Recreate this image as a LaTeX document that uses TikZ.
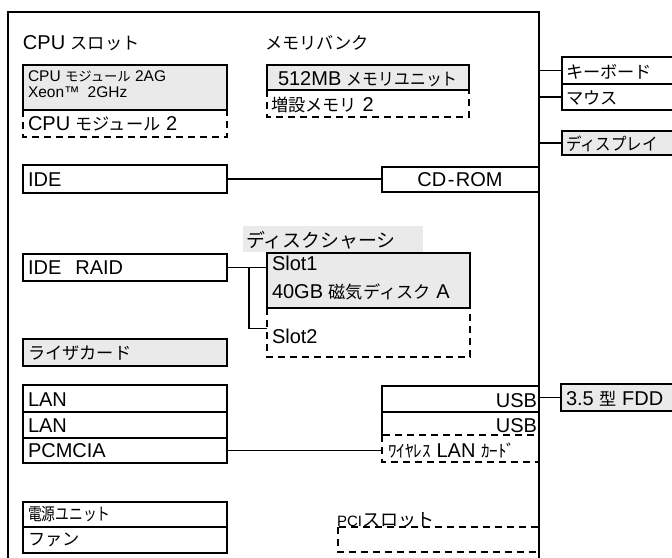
\documentclass[tikz,border=0pt]{standalone}
\usepackage{fontspec}
\setmainfont{Liberation Sans}
\newfontfamily\jpf{Noto Sans CJK JP}[Scale=0.86]
\newcommand\jp[1]{{\jpf #1}}
\newcommand\jn[2][0.9]{\scalebox{#1}[1]{\jpf #2}}
\definecolor{boxgray}{RGB}{234,234,234}
\begin{document}
\begin{tikzpicture}[x=1pt,y=-1pt,
  every node/.style={inner sep=0pt,outer sep=0pt},
  sz/.style 2 args={minimum width=#1pt, minimum height=#2pt},
  bline/.style={line width=1.7pt},
  ln/.style={line width=1.5pt},
  box/.style={draw, bline, rectangle, anchor=north west, fill=white},
  gbox/.style={box, fill=boxgray},
  ghost/.style={rectangle, anchor=north west},
  dsh/.style={line width=1.5pt, dash pattern=on 7pt off 5pt},
  txt/.style={anchor=base west, font=\fontsize{20}{24}\selectfont},
  stxt/.style={anchor=base west, font=\fontsize{15.5}{16}\selectfont},
]
\useasboundingbox (0,0) rectangle (672,557);
\clip (0,0) rectangle (672,557);

% frame
\coordinate (fl) at (8,12);
\coordinate (fr) at (539,12);
\coordinate (br) at (249,0);
\draw[ln] (8,565) -- (fl) -- (fr) -- (539,565);

% headings
\node[txt] (cpuslot) at (23,49) {CPU \jp{スロット}};
\node[txt] (membank) at (265,49) {\jp{メモリバンク}};

% CPU slot
\node[gbox, sz={204}{45}] (cpu1) at (23,65) {};
\node[stxt] (cpu1a) at (28,81.5) {CPU \jp{モジュール} 2AG};
\node[stxt] (cpu1b) at (28,97.5) {Xeon™\hspace{8pt}2GHz};
\node[ghost, sz={204}{27}] (cpu2) at (23,110) {};
\draw[dsh] (cpu2.north west) -- (cpu2.south west) -- (cpu2.south east) -- (cpu2.north east);
\node[txt] (cpu2t) at (28,130) {CPU \jp{モジュール} 2};

% memory bank
\node[gbox, sz={202}{25}] (mem1) at (267,65) {};
\node[txt] (mem1t) at (278,85) {512MB \jn[0.92]{メモリユニット}};
\node[ghost, sz={202}{27}] (mem2) at (267,90) {};
\draw[dsh] (mem2.north west) -- (mem2.south west) -- (mem2.south east) -- (mem2.north east);
\node[txt] (mem2t) at (271,111) {\jp{増設メモリ} 2};

% IDE / CD-ROM
\node[box, sz={204}{28}] (ide) at (23,165) {};
\node[txt] (idet) at (28,186) {IDE};
\node[box, sz={157}{25}] (cdrom) at (382,167) {};
\node[txt, anchor=base] (cdromt) at (460,186.5) {CD\hspace{1.5pt}-\hspace{1.5pt}ROM};
\draw[ln] (ide.east) -- (ide.east -| cdrom.west);

% right side devices
\node[box, sz={150}{27}] (kb) at (562,57) {};
\node[txt] (kbt) at (566,78) {\jp{キーボード}};
\node[box, sz={150}{26}] (mouse) at (562,84) {};
\node[txt] (mouset) at (566,104) {\jp{マウス}};
\node[gbox, sz={150}{24}] (disp) at (562,131) {};
\node[txt] (dispt) at (566,150) {\jn{ディスプレイ}};
\draw[ln] (kb.west -| fr) -- (kb.west);
\draw[ln] (mouse.west -| fr) -- (mouse.west);
\draw[ln] (disp.west -| fr) -- (disp.west);

% IDE RAID and disk chassis
\node[box, sz={204}{27}] (raid) at (23,254) {};
\node[txt] (raidt) at (28,274) {IDE\hspace{14pt}RAID};
\node[ghost, fill=boxgray, sz={180}{26}] (chassis) at (243,226) {};
\node[txt, font=\fontsize{22}{24}\selectfont] (chassist) at (246,247) {\jp{ディスクシャーシ}};
\node[gbox, sz={203}{55}] (slot1) at (267,253) {};
\node[txt] (slot1a) at (272,270) {Slot1};
\node[txt] (slot1b) at (272,298) {40GB \jp{磁気ディスク} A};
\node[ghost, sz={203}{49}] (slot2) at (267,308) {};
\draw[dsh] (slot2.north west) -- (slot2.south west) -- (slot2.south east) -- (slot2.north east);
\node[txt] (slot2t) at (272,343) {Slot2};
\draw[ln] (raid.east) -- (raid.east -| slot1.west);
\draw[ln] (raid.east -| br) |- ([yshift=4pt]slot2.west);

% riser card
\node[gbox, sz={204}{27}] (riser) at (23,339) {};
\node[txt] (risert) at (28,359) {\jp{ライザカード}};

% LAN / PCMCIA
\node[box, sz={204}{27}] (lan1) at (23,385) {};
\node[txt] (lan1t) at (28,406) {LAN};
\node[box, sz={204}{26}] (lan2) at (23,412) {};
\node[txt] (lan2t) at (28,432) {LAN};
\node[box, sz={204}{25}] (pcmcia) at (23,438) {};
\node[txt] (pcmciat) at (28,457) {PCMCIA};

% USB / wireless
\node[box, sz={157}{26}] (usb1) at (382,386) {};
\node[txt, anchor=base east] (usb1t) at (537,407) {USB};
\node[ghost, sz={157}{23}] (usb2) at (382,412) {};
\draw[bline] (usb2.south west) -- (usb2.north west) -- (usb2.north east) -- (usb2.south east);
\node[txt, anchor=base east] (usb2t) at (537,432) {USB};
\node[ghost, sz={157}{27}] (wlan) at (382,435) {};
\draw[dsh] (wlan.north west) rectangle (wlan.south east);
\node[txt, font=\fontsize{20}{22}\selectfont] (wlant) at (388,457) {\jp{ﾜｲﾔﾚｽ} LAN \jp{ｶｰﾄﾞ}};
\draw[ln] (pcmcia.east) -- (pcmcia.east -| wlan.west);

% FDD
\node[gbox, sz={150}{27}] (fdd) at (561,384) {};
\node[txt] (fddt) at (566,405) {3.5 \jp{型} FDD};
\draw[ln] (fdd.west -| fr) -- (fdd.west);

% power / fan
\node[box, sz={204}{25}] (psu) at (23,502) {};
\node[txt] (psut) at (28,520) {\jn[0.8]{電源ユニット}};
\node[box, sz={204}{26}] (fan) at (23,527) {};
\node[txt] (fant) at (28,545) {\jp{ファン}};

% PCI slot
\node[ghost, sz={201}{25}] (pci) at (338,527) {};
\draw[dsh] (pci.north west) rectangle (pci.south east);
\node[txt, font=\fontsize{15}{20}\selectfont] (pcit) at (337,526) {PCI{\fontsize{21}{22}\selectfont\jp{スロット}}};
\end{tikzpicture}
\end{document}
